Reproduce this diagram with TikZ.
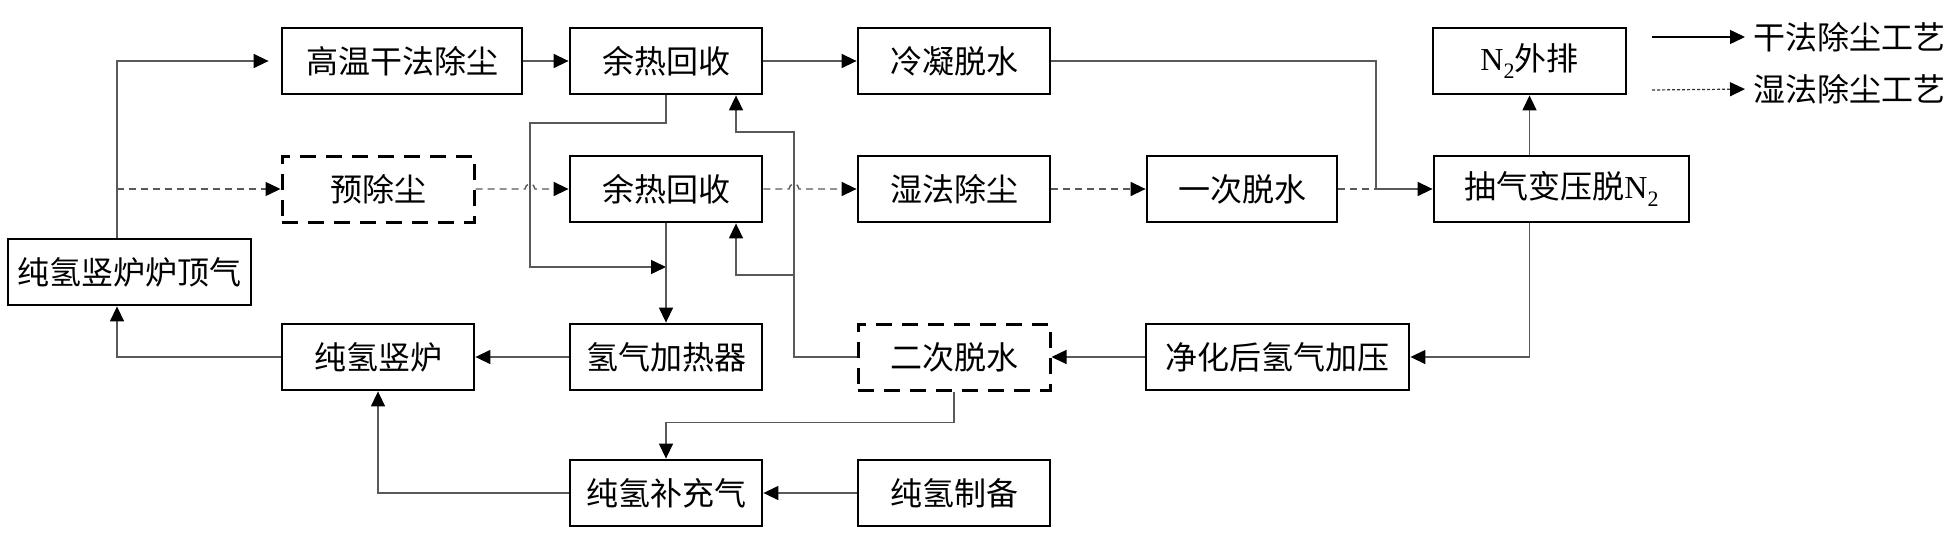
\documentclass[tikz,border=0pt]{standalone}
\usepackage{fontspec}
\setmainfont{Liberation Serif}
\newfontfamily\cjkf{Noto Sans CJK SC}
\usetikzlibrary{arrows.meta,calc}
\newcommand\ntwo{{\rmfamily N\raisebox{-0.55ex}{\fontsize{11pt}{11pt}\selectfont 2}}}
\begin{document}
\begin{tikzpicture}[x=0.5pt,y=-0.5pt,
  txt/.style={font=\cjkf\fontsize{16pt}{16pt}\selectfont},
  box/.style={txt,draw,line width=1.4pt,minimum height=33pt,minimum width=96pt,inner sep=0pt},
  dbox/.style={box,line width=1.5pt,dash pattern=on 8pt off 5pt},
  tip/.style={-{Triangle[length=7.5pt,width=7pt,color=black]}},
  flow/.style={draw=black!65,line width=0.7pt,tip},
  wline/.style={draw=black!65,line width=0.7pt,dash pattern=on 3.5pt off 2.5pt},
  wflow/.style={wline,tip},
]
\useasboundingbox (0,0) rectangle (1959,541);
% nodes
\node[box,minimum width=121.5pt] (top) at (129.5,272) {纯氢竖炉炉顶气};
\node[box,minimum width=120pt] (gw) at (402,61) {高温干法除尘};
\node[box] (yu1) at (666,61) {余热回收};
\node[box] (ln) at (954,61) {冷凝脱水};
\node[box,minimum width=96.5pt] (n2) at (1529.5,61) {\ntwo 外排};
\node[dbox] (pre) at (378,189) {预除尘};
\node[box] (yu2) at (666,189) {余热回收};
\node[box] (sf) at (954,189) {湿法除尘};
\node[box,minimum width=95pt] (ycs) at (1242,189) {一次脱水};
\node[box,minimum width=127.5pt] (cq) at (1561.5,189) {抽气变压脱\ntwo};
\node[box] (sfl) at (378,357) {纯氢竖炉};
\node[box] (jrq) at (666,357) {氢气加热器};
\node[dbox] (ecs) at (954,357) {二次脱水};
\node[box,minimum width=131.5pt] (jh) at (1277.5,357) {净化后氢气加压};
\node[box] (bc) at (666,493) {纯氢补充气};
\node[box] (zb) at (954,493) {纯氢制备};
% legend
\node[txt,anchor=west,inner sep=0pt] (lg1) at (1753,37) {干法除尘工艺};
\node[txt,anchor=west,inner sep=0pt] (lg2) at (1753,89) {湿法除尘工艺};
\coordinate (l1) at (1652,37);
\coordinate (l2) at (1652,90);
\draw[flow,draw=black,shorten >=4pt] (l1) -- (lg1.west);
\draw[draw=black!80,line width=0.6pt,dash pattern=on 1.5pt off 1pt,tip,shorten >=4pt] (l2) -- (lg2.west);
% helper coordinates
\coordinate (c117) at (117,0);
\coordinate (a1) at (530,123);
\coordinate (a2) at (530,267);
\coordinate (v1) at (794,132);
\coordinate (v2) at (736,132);
\coordinate (v3) at (794,275);
\coordinate (v4) at (736,275);
\coordinate (m1) at (1376,189);
% dry route
\draw[flow,shorten >=6pt] (c117 |- top.north) |- (gw.west);
\draw[flow] (gw.east) -- (yu1.west);
\draw[flow] (yu1.east) -- (ln.west);
\draw[flow] (ln.east) -| (m1) -- (cq.west);
% wet route
\draw[wflow] (c117 |- pre.west) -- (pre.west);
\draw[wflow] (pre.east) -- ($(a1 |- pre.east)+(-5,0)$) arc[start angle=180,end angle=360,radius=5] -- (yu2.west);
\draw[wflow] (yu2.east) -- ($(v1 |- yu2.east)+(-5,0)$) arc[start angle=180,end angle=360,radius=5] -- (sf.west);
\draw[wflow] (sf.east) -- (ycs.west);
\draw[wline] (ycs.east) -- (m1);
% N2 and return
\draw[flow] (n2.south |- cq.north) -- (n2.south);
\draw[flow] (n2.south |- cq.south) |- (jh.east);
\draw[flow] (jh.west) -- (ecs.east);
\draw[flow] (ecs.west) -| (v1) -- (v2) -- (v2 |- yu1.south);
\draw[flow] (v3) -- (v4) -- (v4 |- yu2.south);
\draw[flow] (yu1.south) -- (yu1.south |- a1) -- (a1) -- (a2) -- (yu2.south |- a2);
\draw[flow] (yu2.south) -- (jrq.north);
\draw[flow] (jrq.west) -- (sfl.east);
\draw[flow] (sfl.west) -| (c117 |- top.south);
\draw[flow] (ecs.south) -- ++(0,31) -| (bc.north);
\draw[flow] (bc.west) -| (sfl.south);
\draw[flow] (zb.west) -- (bc.east);
\end{tikzpicture}
\end{document}
